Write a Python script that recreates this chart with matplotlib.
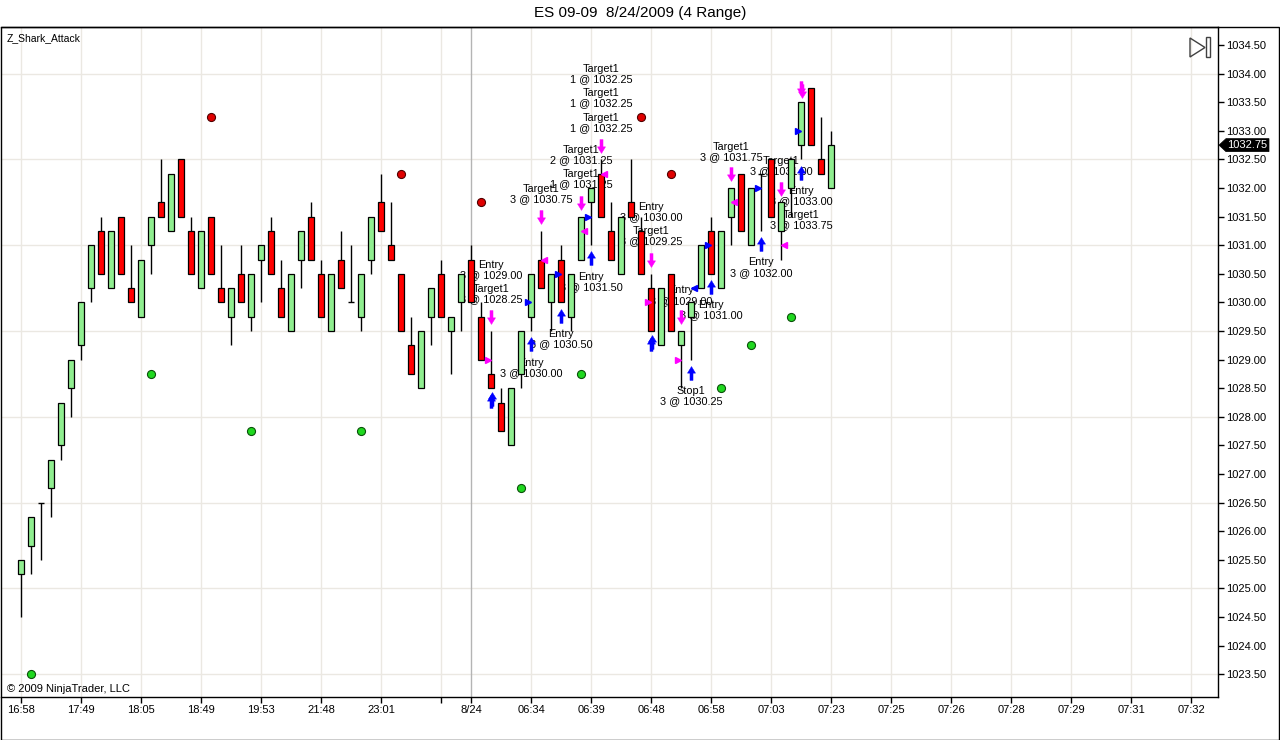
import matplotlib
matplotlib.use("Agg")
import matplotlib.pyplot as plt
import numpy as np
from matplotlib.path import Path
from matplotlib.patches import Rectangle, Polygon

plt.rcParams['font.family'] = ['Liberation Sans', 'DejaVu Sans']

# ES 09-09, 4 range bars (open, high, low, close)
opens = [1025.25, 1025.75, 1026.5, 1026.75, 1027.5, 1028.5, 1029.25, 1030.25, 1031.25, 1030.25,
         1031.5, 1030.25, 1029.75, 1031.0, 1031.75, 1031.25, 1032.5, 1031.25, 1030.25, 1031.5,
         1030.25, 1029.75, 1030.5, 1029.75, 1030.75, 1031.25, 1030.25, 1029.5, 1030.75, 1031.5,
         1030.5, 1029.5, 1030.75, 1030.0, 1029.75, 1030.75, 1031.75, 1031.0, 1030.5, 1029.25,
         1028.5, 1029.75, 1030.5, 1029.5, 1030.0, 1030.75, 1029.75, 1028.75, 1028.25, 1027.5,
         1028.75, 1029.75, 1030.75, 1030.0, 1030.75, 1029.75, 1030.75, 1031.75, 1032.25, 1031.25,
         1030.5, 1031.75, 1031.25, 1030.25, 1029.25, 1030.5, 1029.25, 1029.75, 1030.25, 1031.25,
         1030.25, 1031.5, 1032.25, 1031.0, 1032.25, 1032.5, 1031.25, 1032.0, 1032.75, 1033.75,
         1032.5, 1032.0]
highs = [1025.5, 1026.25, 1026.5, 1027.25, 1028.25, 1029.0, 1030.0, 1031.0, 1031.5, 1031.25,
         1031.5, 1031.0, 1030.75, 1031.5, 1032.5, 1032.25, 1032.5, 1031.5, 1031.25, 1031.5,
         1031.0, 1030.25, 1031.0, 1030.5, 1031.0, 1031.5, 1030.75, 1030.5, 1031.25, 1031.75,
         1030.75, 1030.5, 1031.25, 1031.0, 1030.5, 1031.5, 1032.25, 1031.75, 1030.5, 1029.75,
         1029.5, 1030.25, 1030.75, 1029.75, 1030.5, 1031.0, 1030.0, 1029.5, 1028.5, 1028.5,
         1029.5, 1030.5, 1031.25, 1030.5, 1031.0, 1030.5, 1031.5, 1032.0, 1032.5, 1031.75,
         1031.5, 1032.5, 1031.5, 1030.5, 1030.25, 1030.5, 1029.5, 1030.0, 1031.0, 1031.5,
         1031.25, 1032.0, 1032.25, 1032.0, 1032.25, 1032.5, 1031.75, 1032.5, 1033.5, 1033.75,
         1033.25, 1033.0]
lows = [1024.5, 1025.25, 1025.5, 1026.25, 1027.25, 1028.0, 1029.0, 1030.0, 1030.5, 1030.25,
        1030.5, 1030.0, 1029.75, 1030.5, 1031.5, 1031.25, 1031.5, 1030.5, 1030.25, 1030.5,
        1030.0, 1029.25, 1030.0, 1029.5, 1030.0, 1030.5, 1029.75, 1029.5, 1030.25, 1030.75,
        1029.75, 1029.5, 1030.25, 1030.0, 1029.5, 1030.5, 1031.25, 1030.75, 1029.5, 1028.75,
        1028.5, 1029.25, 1029.75, 1028.75, 1029.5, 1030.0, 1029.0, 1028.5, 1027.75, 1027.5,
        1028.5, 1029.5, 1030.25, 1029.5, 1030.0, 1029.5, 1030.75, 1031.0, 1031.5, 1030.75,
        1030.5, 1031.5, 1030.5, 1029.5, 1029.25, 1029.5, 1028.5, 1029.0, 1030.25, 1030.5,
        1030.25, 1031.0, 1031.25, 1031.0, 1031.25, 1031.5, 1030.75, 1031.5, 1032.5, 1032.75,
        1032.25, 1032.0]
closes = [1025.5, 1026.25, 1026.5, 1027.25, 1028.25, 1029.0, 1030.0, 1031.0, 1030.5, 1031.25,
          1030.5, 1030.0, 1030.75, 1031.5, 1031.5, 1032.25, 1031.5, 1030.5, 1031.25, 1030.5,
          1030.0, 1030.25, 1030.0, 1030.5, 1031.0, 1030.5, 1029.75, 1030.5, 1031.25, 1030.75,
          1029.75, 1030.5, 1030.25, 1030.0, 1030.5, 1031.5, 1031.25, 1030.75, 1029.5, 1028.75,
          1029.5, 1030.25, 1029.75, 1029.75, 1030.5, 1030.0, 1029.0, 1028.5, 1027.75, 1028.5,
          1029.5, 1030.5, 1030.25, 1030.5, 1030.0, 1030.5, 1031.5, 1032.0, 1031.5, 1030.75,
          1031.5, 1031.5, 1030.5, 1029.5, 1030.25, 1029.5, 1029.5, 1030.0, 1031.0, 1030.5,
          1031.25, 1032.0, 1031.25, 1032.0, 1032.25, 1031.5, 1031.75, 1032.5, 1033.5, 1032.75,
          1032.25, 1032.75]

# Z_Shark_Attack indicator dots (bar, price)
green_dot_bars = [1, 13, 23, 34, 50, 56, 70, 73, 77]
green_dot_prices = [1023.5, 1028.75, 1027.75, 1027.75, 1026.75, 1028.75, 1028.5, 1029.25, 1029.75]
red_dot_bars = [19, 38, 46, 62, 65]
red_dot_prices = [1033.25, 1032.25, 1031.75, 1033.25, 1032.25]

# executions
buy_arrow_bars = [47, 47, 51, 54, 57, 63, 63, 67, 69, 74, 78]
sell_arrow_bars = [47, 52, 56, 58, 63, 66, 71, 76, 78, 78]
buy_fill_bars = [51, 54, 57, 69, 74, 78]
buy_fill_prices = [1030.0, 1030.5, 1031.5, 1031.0, 1032.0, 1033.0]
buy_fill_left_bars = [67]
buy_fill_left_prices = [1030.25]
sell_fill_right_bars = [47, 63, 66]
sell_fill_right_prices = [1029.0, 1030.0, 1029.0]
sell_fill_left_bars = [52, 56, 58, 71, 76]
sell_fill_left_prices = [1030.75, 1031.25, 1032.25, 1031.75, 1031.0]

label_bars = [58, 58, 58, 56, 56, 52, 63, 63, 47, 47, 57, 54, 51, 66, 69, 67, 71, 76, 78, 78, 74]
label_prices = [1033.99, 1033.57, 1033.14, 1032.58, 1032.16, 1031.90, 1031.58, 1031.16, 1030.57,
                1030.15, 1030.36, 1029.36, 1028.85, 1030.12, 1029.87, 1028.36, 1032.63, 1032.38,
                1031.86, 1031.44, 1030.61]
label_texts = ["Target1\n1 @ 1032.25", "Target1\n1 @ 1032.25", "Target1\n1 @ 1032.25",
               "Target1\n2 @ 1031.25", "Target1\n1 @ 1031.25", "Target1\n3 @ 1030.75",
               "Entry\n3 @ 1030.00", "Target1\n3 @ 1029.25", "Entry\n3 @ 1029.00",
               "Target1\n3 @ 1028.25", "Entry\n3 @ 1031.50", "Entry\n3 @ 1030.50",
               "Entry\n3 @ 1030.00", "Entry\n3 @ 1029.00", "Entry\n3 @ 1031.00",
               "Stop1\n3 @ 1030.25", "Target1\n3 @ 1031.75", "Target1\n3 @ 1031.00",
               "Entry\n3 @ 1033.00", "Target1\n3 @ 1033.75", "Entry\n3 @ 1032.00"]

tick_bars = [0, 6, 12, 18, 24, 30, 36, 42, 45, 51, 57, 63, 69, 75, 81, 87, 93, 99, 105, 111, 117]
tick_labels = ["16:58", "17:49", "18:05", "18:49", "19:53", "21:48", "23:01", "", "8/24",
               "06:34", "06:39", "06:48", "06:58", "07:03", "07:23", "07:25", "07:26",
               "07:28", "07:29", "07:31", "07:32"]
session_bar = 45

W, H = 1280, 740
fig = plt.figure(figsize=(12.8, 7.4), dpi=100)
ax_rect = [1 / W, (H - 697) / H, (1218 - 1) / W, (697 - 27) / H]
ax = fig.add_axes(ax_rect)
ymin, ymax = 1023.103, 1034.815
ax.set_xlim(-2.0, 119.7)
ax.set_ylim(ymin, ymax)

# grid
for b in tick_bars:
    if b == session_bar:
        ax.axvline(b, color='#b4b4b4', lw=1.0, zorder=1)
    else:
        ax.axvline(b, color='#ebe8e2', lw=1.0, zorder=0)
for p in np.arange(1023.5, 1034.6, 1.5):
    ax.axhline(p, color='#ebe8e2', lw=1.0, zorder=0)

# candles
x = np.arange(len(opens))
o = np.array(opens); c = np.array(closes); hi = np.array(highs); lo = np.array(lows)
ax.vlines(x, lo, hi, color='black', lw=1.0, zorder=3)
up = c > o
dn = c < o
bw = 0.62
ax.bar(x[up], (c - o)[up], bottom=o[up], width=bw, color='#90ee90', edgecolor='black',
       lw=0.9, zorder=4)
ax.bar(x[dn], (o - c)[dn], bottom=c[dn], width=bw, color='#ff0000', edgecolor='black',
       lw=0.9, zorder=4)
doji = c == o
ax.hlines(o[doji], x[doji] - bw / 2, x[doji] + bw / 2, color='black', lw=1.0, zorder=4)

# indicator dots
ax.plot(green_dot_bars, green_dot_prices, 'o', ms=5.8, mfc='#1fd81f', mec='#0a500a',
        mew=0.8, zorder=5, ls='none')
ax.plot(red_dot_bars, red_dot_prices, 'o', ms=5.8, mfc='#e00000', mec='#500000',
        mew=0.8, zorder=5, ls='none')

# execution arrows
up_arrow = Path([(-0.22, -1), (0.22, -1), (0.22, 0.05), (0.58, 0.05), (0, 1),
                 (-0.58, 0.05), (-0.22, 0.05), (-0.22, -1)], closed=True)
dn_arrow = Path([(vx, -vy) for vx, vy in up_arrow.vertices], closed=True)

seen = {}
for b in buy_arrow_bars:
    k = seen.get(('b', b), 0)
    seen[('b', b)] = k + 1
    ax.plot(b + 0.12 * k, lows[b] - 0.23 + 0.04 * k, marker=up_arrow, ms=10, mfc='#0000ff',
            mec='#0000ff', mew=0.3, zorder=6, ls='none')
for b in sell_arrow_bars:
    k = seen.get(('s', b), 0)
    seen[('s', b)] = k + 1
    ax.plot(b + 0.12 * k, highs[b] + 0.24 - 0.04 * k, marker=dn_arrow, ms=10, mfc='#ff00ff',
            mec='#ff00ff', mew=0.3, zorder=6, ls='none')

# fill price triangles
ax.plot(np.array(buy_fill_bars) - 0.3, buy_fill_prices, '>', ms=5, color='#0000ff', zorder=6,
        ls='none')
ax.plot(np.array(buy_fill_left_bars) + 0.3, buy_fill_left_prices, '<', ms=5, color='#0000ff',
        zorder=6, ls='none')
ax.plot(np.array(sell_fill_right_bars) - 0.3, sell_fill_right_prices, '>', ms=5,
        color='#ff00ff', zorder=6, ls='none')
ax.plot(np.array(sell_fill_left_bars) + 0.3, sell_fill_left_prices, '<', ms=5,
        color='#ff00ff', zorder=6, ls='none')

for b, p, t in zip(label_bars, label_prices, label_texts):
    ax.text(b, p, t, ha='center', va='center', fontsize=7.8, linespacing=1.05,
            color='black', zorder=2)

# axes styling
ax.yaxis.tick_right()
ax.set_yticks(np.arange(1023.5, 1034.51, 0.5))
ax.set_yticklabels(['%.2f' % v for v in np.arange(1023.5, 1034.51, 0.5)])
ax.set_xticks(tick_bars)
ax.set_xticklabels(tick_labels)
ax.tick_params(axis='y', direction='out', length=4, width=1, pad=1.5, labelsize=8)
ax.tick_params(axis='x', direction='out', length=4.5, width=1, pad=1.5, labelsize=8)
for s in ax.spines.values():
    s.set_color('black')
    s.set_linewidth(1.0)
ax.spines['left'].set_visible(False)

# last price marker on the price axis
last = closes[-1]
yf = ax_rect[1] + (last - ymin) / (ymax - ymin) * ax_rect[3]
hh = 6.5 / H
fig.patches.append(Polygon([(1219 / W, yf), (1226 / W, yf + hh), (1269 / W, yf + hh),
                            (1269 / W, yf - hh), (1226 / W, yf - hh)], closed=True,
                           fc='black', ec='black', lw=0.5, transform=fig.transFigure,
                           zorder=10))
fig.text(1247 / W, yf, '%.2f' % last, ha='center', va='center', fontsize=8,
         color='white', zorder=11)

# outer frame and window text
fig.patches.append(Rectangle((0.5 / W, 0.5 / H), (W - 1.5) / W, (H - 27.5) / H,
                             transform=fig.transFigure, fill=False, ec='black', lw=1.0))
fig.text(0.5, 1 - 13 / H, 'ES 09-09  8/24/2009 (4 Range)', ha='center', va='center',
         fontsize=11)
fig.text(7 / W, 1 - 38 / H, 'Z_Shark_Attack', ha='left', va='center', fontsize=7.5)
fig.text(7 / W, 1 - 689 / H, '\u00a9 2009 NinjaTrader, LLC', ha='left', va='center',
         fontsize=8)
fig.patches.append(Polygon([(1190 / W, 1 - 38 / H), (1205 / W, 1 - 47.5 / H),
                            (1190 / W, 1 - 57 / H)], closed=True, fill=False, ec='#404040',
                           lw=1.0, transform=fig.transFigure))
fig.patches.append(Rectangle((1206 / W, 1 - 57 / H), 4 / W, 20 / H, fill=False, ec='#404040',
                             lw=1.0, transform=fig.transFigure))

fig.savefig('out.png', dpi=100)
